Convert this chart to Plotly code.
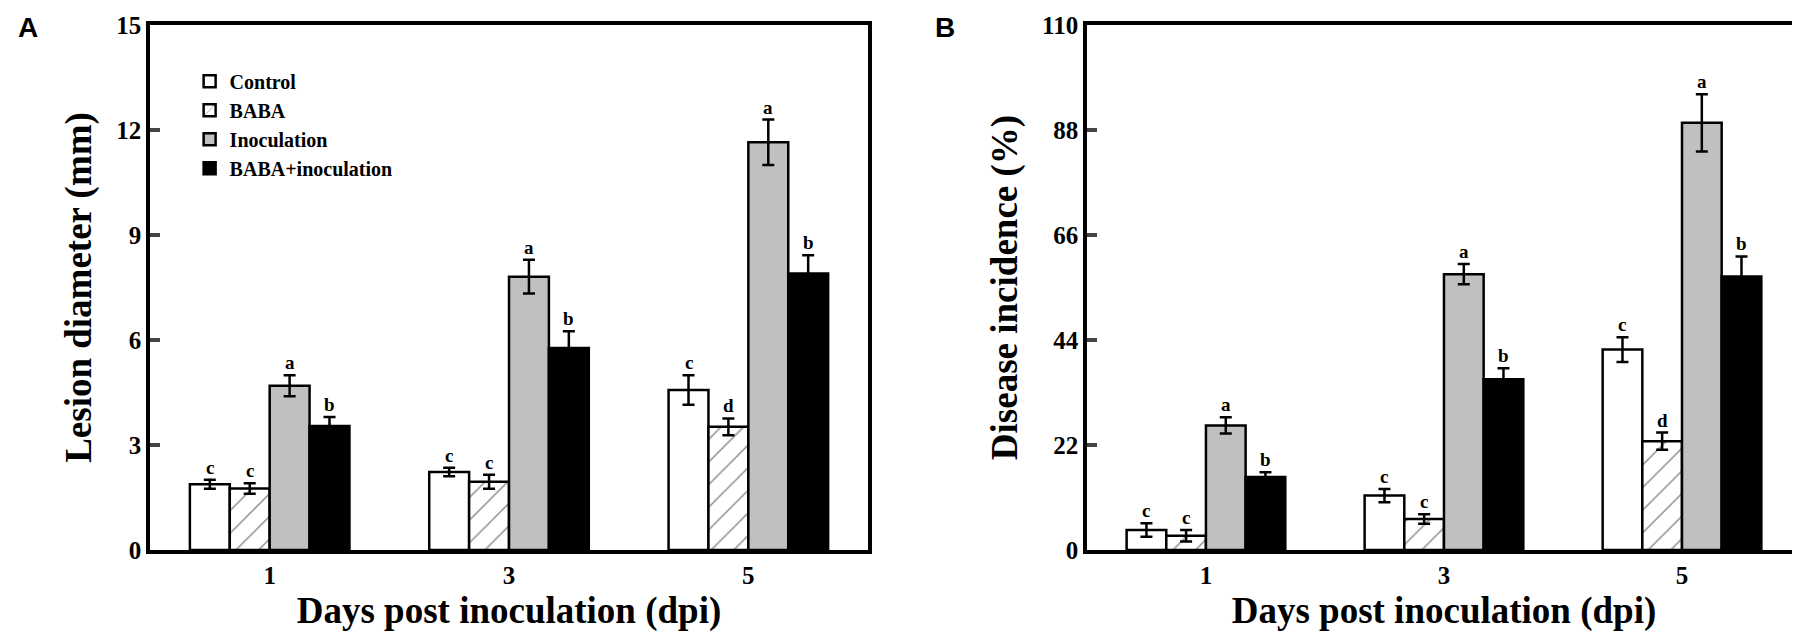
import plotly.graph_objects as go

# days post inoculation (x categories)
days = ["1", "3", "5"]
treatments = ["Control", "BABA", "Inoculation", "BABA+inoculation"]

# panel A: lesion diameter (mm)
lesion_control = [1.88, 2.23, 4.57]
lesion_baba = [1.76, 1.95, 3.52]
lesion_inoc = [4.69, 7.81, 11.65]
lesion_baba_inoc = [3.54, 5.77, 7.90]
lesion_control_err = [0.13, 0.12, 0.42]
lesion_baba_err = [0.15, 0.20, 0.24]
lesion_inoc_err = [0.30, 0.48, 0.65]
lesion_baba_inoc_err = [0.26, 0.48, 0.52]
lesion_control_sig = ["c", "c", "c"]
lesion_baba_sig = ["c", "c", "d"]
lesion_inoc_sig = ["a", "a", "a"]
lesion_baba_inoc_sig = ["b", "b", "b"]

# panel B: disease incidence (%)
incid_control = [4.2, 11.4, 42.0]
incid_baba = [3.0, 6.5, 22.8]
incid_inoc = [26.1, 57.8, 89.5]
incid_baba_inoc = [15.3, 35.8, 57.3]
incid_control_err = [1.4, 1.4, 2.6]
incid_baba_err = [1.2, 1.0, 1.8]
incid_inoc_err = [1.7, 2.1, 6.0]
incid_baba_inoc_err = [1.0, 2.3, 4.2]
incid_control_sig = ["c", "c", "c"]
incid_baba_sig = ["c", "c", "d"]
incid_inoc_sig = ["a", "a", "a"]
incid_baba_inoc_sig = ["b", "b", "b"]

lesion_ticks = [0, 3, 6, 9, 12, 15]
incid_ticks = [0, 22, 44, 66, 88, 110]

SERIF = "Times New Roman, Liberation Serif, serif"

fills = ["white", "white", "#c0c0c0", "black"]
patterns = ["", "/", "", ""]

fig = go.Figure()

panels = [
    ("x", "y", [lesion_control, lesion_baba, lesion_inoc, lesion_baba_inoc],
     [lesion_control_err, lesion_baba_err, lesion_inoc_err, lesion_baba_inoc_err],
     [lesion_control_sig, lesion_baba_sig, lesion_inoc_sig, lesion_baba_inoc_sig], True),
    ("x2", "y2", [incid_control, incid_baba, incid_inoc, incid_baba_inoc],
     [incid_control_err, incid_baba_err, incid_inoc_err, incid_baba_inoc_err],
     [incid_control_sig, incid_baba_sig, incid_inoc_sig, incid_baba_inoc_sig], False),
]

# width of one bar in px (plot width ~717 px / 3 groups * 0.667 / 4)
bar_px = 717 / 3 * (2 / 3) / 4

for xa, ya, vals, errs, sigs, show in panels:
    for i, name in enumerate(treatments):
        fig.add_trace(go.Bar(
            x=days, y=vals[i], name=name, xaxis=xa, yaxis=ya,
            showlegend=show, legendgroup=name,
            marker=dict(color=fills[i], line=dict(color="black", width=2.5),
                        pattern=dict(shape=patterns[i], fgcolor="black", bgcolor="white",
                                     size=16, solidity=0.08)),
            error_y=dict(type="data", array=errs[i], color="black", thickness=2.5, width=6),
        ))
        for j in range(len(days)):
            # category axis: annotation x given as category index
            fig.add_annotation(
                x=j, y=vals[i][j] + errs[i][j], xref=xa, yref=ya,
                text=sigs[i][j], showarrow=False, yanchor="bottom",
                xshift=(i - 1.5) * bar_px, yshift=0,
                font=dict(family=SERIF, size=19, color="black", weight="bold"),
            )

axis_common = dict(showline=True, linecolor="black", linewidth=3.5, mirror=True,
                   showgrid=False, zeroline=False, automargin=False,
                   tickfont=dict(family=SERIF, size=25, color="black", weight="bold"))
title_font = dict(family=SERIF, size=37, color="black", weight="bold")

fig.update_layout(
    width=1800, height=641,
    paper_bgcolor="white", plot_bgcolor="white",
    margin=dict(l=142, r=7, t=17, b=99),
    barmode="group", bargap=1 / 3, bargroupgap=0,
    xaxis=dict(domain=[0, 0.4349], type="category", range=[-0.5, 2.5], ticks="", **axis_common,
               title=dict(text="Days post inoculation (dpi)", standoff=10, font=title_font)),
    yaxis=dict(range=[0, 15], tickvals=lesion_ticks, ticks="inside", ticklen=10, tickwidth=3.5,
               **axis_common,
               title=dict(text="Lesion diameter (mm)", standoff=14, font=title_font)),
    xaxis2=dict(domain=[0.5675, 1], anchor="y2", type="category", range=[-0.5, 2.5], ticks="",
                **axis_common,
                title=dict(text="Days post inoculation (dpi)", standoff=10, font=title_font)),
    yaxis2=dict(range=[0, 110], tickvals=incid_ticks, ticks="inside", ticklen=10, tickwidth=3.5,
                anchor="x2", **axis_common,
                title=dict(text="Disease incidence (%)", standoff=14, font=title_font)),
    legend=dict(x=0.024, y=0.93, xanchor="left", yanchor="top",
                bgcolor="rgba(0,0,0,0)", borderwidth=0, tracegroupgap=0,
                font=dict(family=SERIF, size=20, color="black", weight="bold")),
)

for label, px in (("A", 20), ("B", 937)):
    fig.add_annotation(
        x=(px - 142) / 1651, y=1 + (17 - 19) / 525, xref="paper", yref="paper",
        text=label, showarrow=False, xanchor="center", yanchor="middle",
        font=dict(family="Arial, Liberation Sans, sans-serif", size=28, color="black", weight="bold"),
    )

fig.write_html("out.html")
